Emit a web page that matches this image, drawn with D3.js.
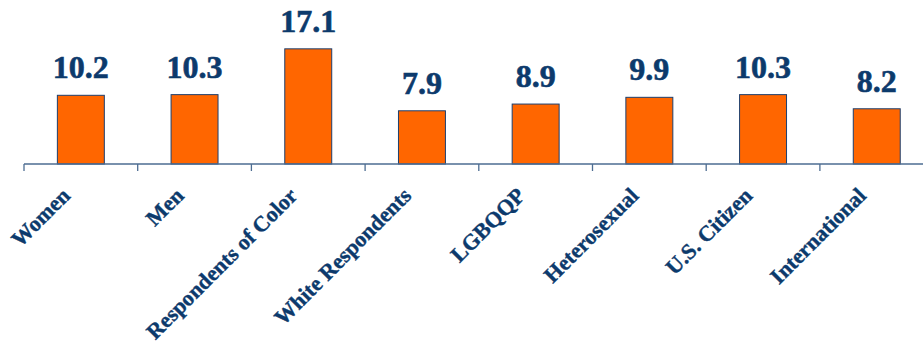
<!DOCTYPE html>
<html><head><meta charset="utf-8">
<script src="https://cdn.jsdelivr.net/npm/d3@7"></script>
<style>html,body{margin:0;padding:0;background:#fff;}
text{font-family:"Liberation Serif","Times New Roman",serif;font-weight:bold;}</style>
</head><body><svg id="c" width="923" height="346"></svg>
<script>
const categories = ["Women","Men","Respondents of Color","White Respondents","LGBQQP","Heterosexual","U.S. Citizen","International"];
const values = [10.2,10.3,17.1,7.9,8.9,9.9,10.3,8.2];

const svg = d3.select("#c");
const navy = "#0c3a6c";
const x0 = 24, step = 113.7, n = categories.length;
const x = d3.scaleBand().domain(categories).range([x0, x0 + step*n]).paddingInner(0.587).paddingOuter(0.2935);
const xb = d3.scaleBand().domain(categories).range([x0, x0 + step*n]).padding(0);
const y = d3.scaleLinear().domain([0, 20]).range([164, 164 - 6.735*20]);

svg.selectAll("rect.bar").data(categories).join("rect")
  .attr("class","bar")
  .attr("x", d => x(d)).attr("width", x.bandwidth())
  .attr("y", (d,i) => y(values[i])).attr("height", (d,i) => y(0) - y(values[i]))
  .attr("fill","#ff6600").attr("stroke","#1d3f6e").attr("stroke-width",1);

const axis = d3.axisBottom(xb).tickSize(0).tickFormat("");
const g = svg.append("g").attr("transform", `translate(0,${y(0)})`).call(axis);
g.select(".domain").attr("stroke","#4d6d92").attr("stroke-width",1.3).attr("d", `M${x0},0H923`);
g.selectAll(".tick").remove();
g.selectAll("line.tk").data(categories).join("line").attr("class","tk")
  .attr("x1", d => xb(d)).attr("x2", d => xb(d)).attr("y1",0).attr("y2",7)
  .attr("stroke","#4d6d92").attr("stroke-width",1.3);

svg.selectAll("text.val").data(categories).join("text").attr("class","val")
  .attr("x", d => x(d) + x.bandwidth()/2)
  .attr("y", (d,i) => y(values[i]) - 17)
  .attr("text-anchor","middle")
  .attr("font-size",32).attr("fill",navy)
  .attr("stroke",navy).attr("stroke-width",0.6)
  .text((d,i) => values[i].toFixed(1));

svg.selectAll("text.cat").data(categories).join("text").attr("class","cat")
  .attr("transform", d => `translate(${xb(d) + xb.bandwidth()/2 - 9.5},197) rotate(-45)`)
  .attr("text-anchor","end")
  .attr("font-size",22).attr("fill",navy)
  .attr("stroke",navy).attr("stroke-width",0.4)
  .text(d => d);
</script></body></html>
